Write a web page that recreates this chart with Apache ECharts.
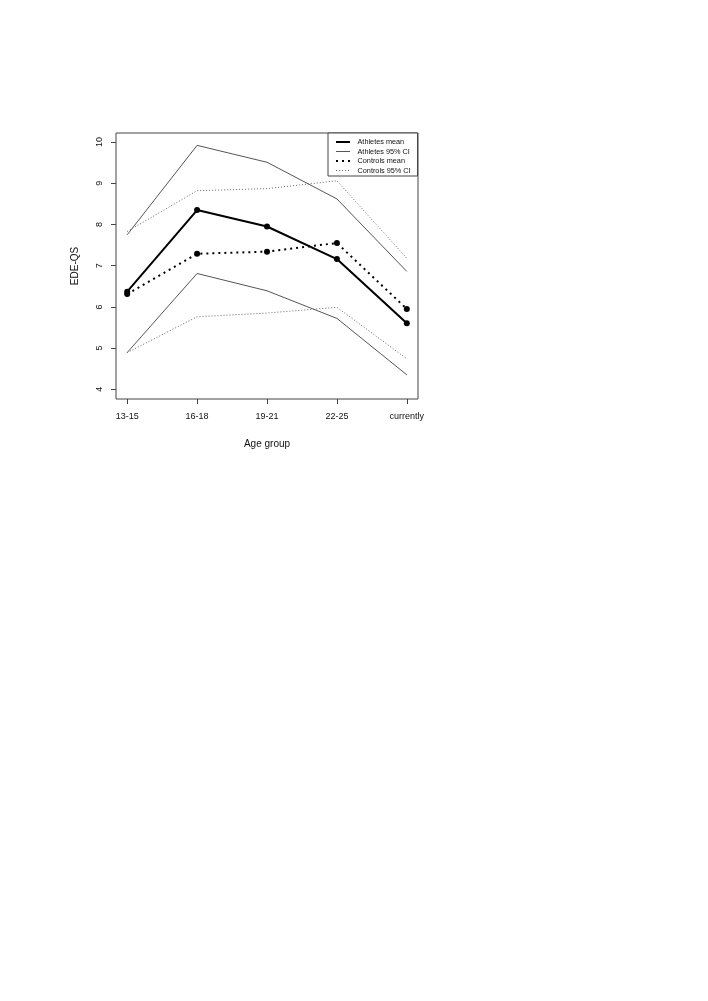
<!DOCTYPE html>
<html>
<head>
<meta charset="utf-8">
<script src="https://cdn.jsdelivr.net/npm/echarts@6/dist/echarts.min.js"></script>
<style>
html,body{margin:0;padding:0;background:#fff;}
#chart{width:708px;height:1001px;}
</style>
</head>
<body>
<div id="chart"></div>
<script>
const categories = ['13-15', '16-18', '19-21', '22-25', 'currently'];
const athletesMean = [6.37, 8.35, 7.95, 7.16, 5.60];
const athletesUpper = [7.75, 9.92, 9.51, 8.62, 6.86];
const athletesLower = [4.89, 6.81, 6.39, 5.72, 4.35];
const controlsMean = [6.31, 7.29, 7.34, 7.55, 5.95];
const controlsUpper = [7.83, 8.82, 8.87, 9.06, 7.18];
const controlsLower = [4.89, 5.76, 5.85, 5.99, 4.74];
const yTicks = [4, 5, 6, 7, 8, 9, 10];
const legendLabels = ['Athletes mean', 'Athletes 95% CI', 'Controls mean', 'Controls 95% CI'];

const xy = arr => arr.map((v, i) => [i + 1, v]);
const font = "'Liberation Sans', Arial, sans-serif";

const chart = echarts.init(document.getElementById('chart'), null, {renderer: 'canvas'});

const legendX = 328, legendY = 133, legendW = 89.5, legendH = 43;
const rowY = [142, 151.5, 161, 170.5];
const legendStyles = [
  {stroke: '#000', lineWidth: 2, lineDash: null},
  {stroke: '#555', lineWidth: 1, lineDash: null},
  {stroke: '#000', lineWidth: 2, lineDash: [2, 4]},
  {stroke: '#666', lineWidth: 1, lineDash: [1, 2]}
];
const graphics = [{
  type: 'rect', shape: {x: legendX, y: legendY, width: legendW, height: legendH},
  style: {fill: '#fff', stroke: '#444', lineWidth: 1}, z: 100
}];
legendLabels.forEach((t, i) => {
  graphics.push({
    type: 'line', shape: {x1: 336, y1: rowY[i], x2: 350, y2: rowY[i]},
    style: Object.assign({}, legendStyles[i]), z: 101
  });
  graphics.push({
    type: 'text', x: 357.5, y: rowY[i],
    style: {text: t, fontSize: 7.3, fontFamily: font, fill: '#111', verticalAlign: 'middle', align: 'left'}, z: 101
  });
});

chart.setOption({
  animation: false,
  backgroundColor: '#fff',
  grid: {left: 116, top: 133, right: 290, bottom: 602, show: true, borderColor: '#444', borderWidth: 1, containLabel: false},
  xAxis: {
    type: 'value', min: 0.84, max: 5.16,
    name: 'Age group', nameLocation: 'middle', nameGap: 40,
    nameTextStyle: {fontFamily: font, fontSize: 10, color: '#111'},
    axisLine: {show: false},
    splitLine: {show: false},
    axisTick: {show: true, length: 5, lineStyle: {color: '#444'}, customValues: [1, 2, 3, 4, 5]},
    axisLabel: {
      customValues: [1, 2, 3, 4, 5], margin: 13,
      fontFamily: font, fontSize: 9, color: '#111',
      formatter: v => categories[Math.round(v) - 1] || ''
    }
  },
  yAxis: {
    type: 'value', min: 3.764, max: 10.22,
    name: 'EDE-QS', nameLocation: 'middle', nameGap: 36, nameRotate: 90,
    nameTextStyle: {fontFamily: font, fontSize: 10, color: '#111'},
    axisLine: {show: false},
    splitLine: {show: false},
    axisTick: {show: true, length: 5, lineStyle: {color: '#444'}, customValues: yTicks},
    axisLabel: {
      customValues: yTicks, rotate: 90, margin: 12,
      fontFamily: font, fontSize: 9, color: '#111',
      formatter: v => String(Math.round(v))
    }
  },
  series: [
    {type: 'line', name: 'Athletes 95% CI upper', data: xy(athletesUpper), symbol: 'none',
     lineStyle: {color: '#555', width: 1}},
    {type: 'line', name: 'Athletes 95% CI lower', data: xy(athletesLower), symbol: 'none',
     lineStyle: {color: '#555', width: 1}},
    {type: 'line', name: 'Controls 95% CI upper', data: xy(controlsUpper), symbol: 'none',
     lineStyle: {color: '#666', width: 1, type: [1, 2]}},
    {type: 'line', name: 'Controls 95% CI lower', data: xy(controlsLower), symbol: 'none',
     lineStyle: {color: '#666', width: 1, type: [1, 2]}},
    {type: 'line', name: 'Controls mean', data: xy(controlsMean), symbol: 'circle', symbolSize: 6,
     itemStyle: {color: '#000'}, lineStyle: {color: '#000', width: 2, type: [2, 4]}},
    {type: 'line', name: 'Athletes mean', data: xy(athletesMean), symbol: 'circle', symbolSize: 6,
     itemStyle: {color: '#000'}, lineStyle: {color: '#000', width: 2}}
  ],
  graphic: graphics
});
</script>
</body>
</html>
